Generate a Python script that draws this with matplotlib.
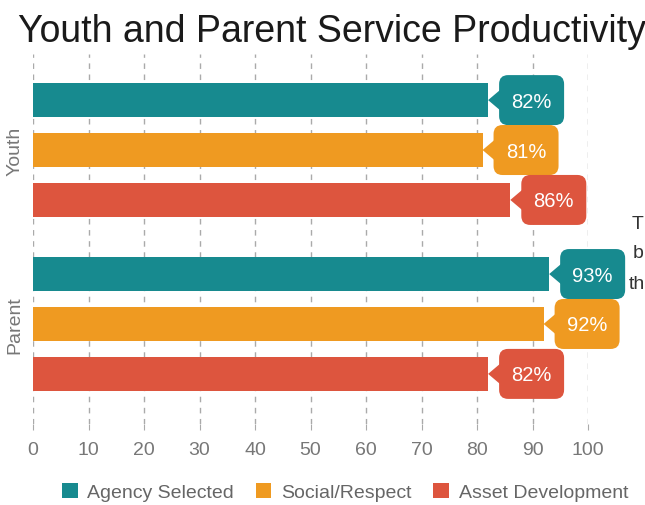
import matplotlib
matplotlib.use('Agg')
import matplotlib.pyplot as plt
import matplotlib.transforms as mtransforms
from matplotlib.patches import FancyBboxPatch, Polygon, Patch
import numpy as np

groups = ['Youth', 'Parent']
series = ['Agency Selected', 'Social/Respect', 'Asset Development']
agency = [82, 93]
social = [81, 92]
asset = [86, 82]
colors = ['#178a8f', '#ef9a21', '#dd553e']

plt.rcParams['font.family'] = ['Liberation Sans', 'DejaVu Sans']

fig = plt.figure(figsize=(6.45, 5.06), dpi=100)
ax = fig.add_axes([33 / 645, 1 - 425 / 506, 555 / 645, 370 / 506])

offsets = [-0.287, 0.0, 0.287]
bar_h = 0.195
centers = np.arange(len(groups))


def callout(x, y, color, label, z):
    # shape drawn in pixel offsets from the bar end
    trans = mtransforms.Affine2D().scale(fig.dpi / 100) + \
        mtransforms.ScaledTranslation(x, y, ax.transData)
    box = FancyBboxPatch((11, -25), 65, 50, boxstyle='round,pad=0,rounding_size=9',
                         facecolor=color, edgecolor='none', transform=trans,
                         clip_on=False, zorder=z)
    tri = Polygon([(0, 0), (13, -11), (13, 11)], closed=True, facecolor=color,
                  edgecolor='none', transform=trans, clip_on=False, zorder=z)
    ax.add_patch(box)
    ax.add_patch(tri)
    ax.text(43.5, -1, label, transform=trans, ha='center', va='center',
            color='white', fontsize=14.5, zorder=z + 0.1, clip_on=False)


z = 4
for gi, g in enumerate(groups):
    for si, vals in enumerate([agency, social, asset]):
        y = centers[gi] + offsets[si]
        ax.barh(y, vals[gi], height=bar_h, color=colors[si], zorder=3)
        callout(vals[gi], y, colors[si], f'{vals[gi]}%', z)
        z += 1

ax.set_xlim(0, 100)
ax.set_ylim(1.575, -0.552)
ax.set_xticks(range(0, 101, 10))
ax.set_yticks([])
ax.grid(axis='x', linestyle=(0, (4, 4)), color='#aaaaaa', linewidth=1, zorder=0)
for s in ax.spines.values():
    s.set_visible(False)
ax.tick_params(axis='x', length=4, color='#aaaaaa', labelcolor='#777777',
               labelsize=14, pad=8)

ylab_trans = mtransforms.blended_transform_factory(ax.transAxes, ax.transData)
for gi, g in enumerate(groups):
    ax.text(-18 / 555, centers[gi], g, rotation=90, transform=ylab_trans,
            ha='center', va='center', color='#777777', fontsize=14)

fig.text(18 / 645, 1 - 42 / 506, 'Youth and Parent Service Productivity',
         fontsize=27, color='#1a1a1a', ha='left', va='baseline')

# text fragments at the right edge
fig.text(632 / 645, 1 - 225 / 506, 'T', fontsize=14, color='#333333', va='center')
fig.text(633 / 645, 1 - 254 / 506, 'b', fontsize=14, color='#333333', va='center')
fig.text(629 / 645, 1 - 285 / 506, 'th', fontsize=14, color='#333333', va='center')

handles = [Patch(facecolor=c, edgecolor='none') for c in colors]
fig.legend(handles, series, loc='center', bbox_to_anchor=(345 / 645, 1 - 493 / 506),
           ncol=3, frameon=False, fontsize=14, handlelength=0.82, handleheight=0.82,
           handletextpad=0.5, columnspacing=1.1, labelcolor='#666666')

fig.savefig('out.png', dpi=100)
